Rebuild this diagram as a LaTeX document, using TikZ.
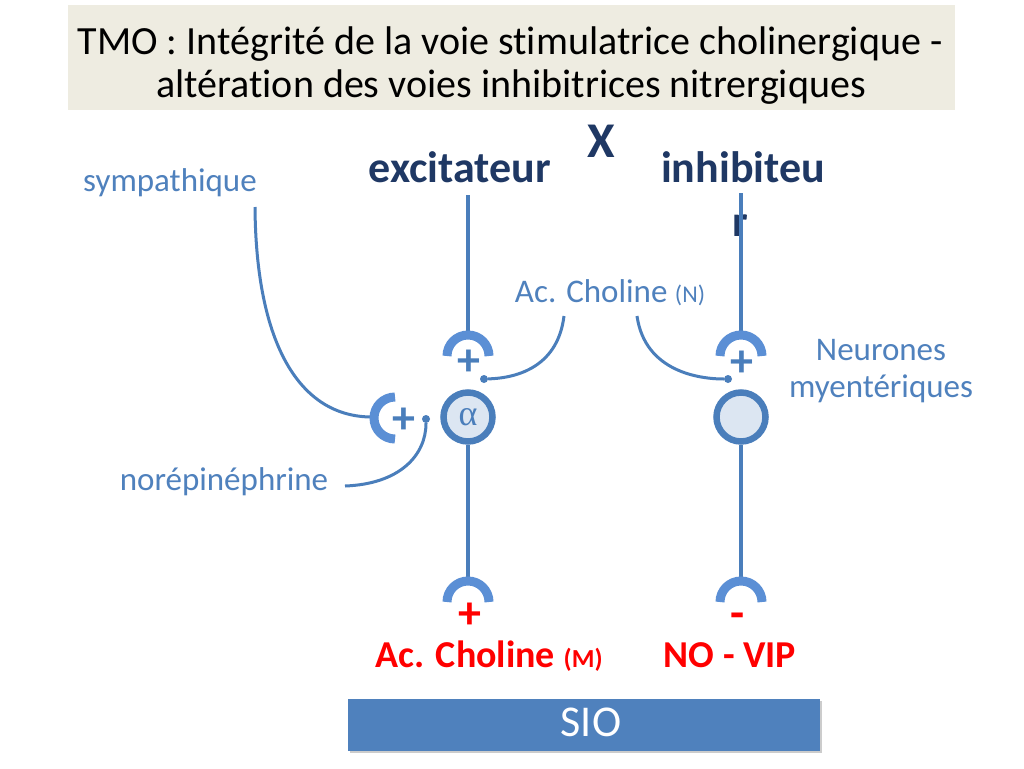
\documentclass[tikz,border=0pt]{standalone}
\usepackage{fontspec}
\setmainfont{Carlito}[Ligatures={NoCommon}]
\newfontfamily\alphafont{Liberation Serif}
\usetikzlibrary{shadows}
\definecolor{titlebg}{HTML}{EEECE1}
\definecolor{navy}{HTML}{1F3864}
\definecolor{textblue}{HTML}{4F81BD}
\definecolor{lineblue}{HTML}{4A7EBB}
\definecolor{capblue}{HTML}{5B8FD5}
\definecolor{circfill}{HTML}{DCE6F2}
\definecolor{siofill}{HTML}{4F81BD}
\definecolor{redtext}{HTML}{FF0000}
\begin{document}
\begin{tikzpicture}[x=1pt,y=-1pt,
  txt/.style={inner sep=0pt, anchor=base},
  titletxt/.style={txt, text=black, font=\fontsize{40}{43}\selectfont},
  bluetxt/.style={txt, text=textblue, font=\fontsize{33}{36}\selectfont},
  navytxt/.style={txt, text=navy, font=\bfseries\fontsize{44}{48}\selectfont},
  redtxt/.style={txt, text=redtext, font=\bfseries\fontsize{38}{40}\selectfont},
  redsign/.style={txt, text=redtext, font=\bfseries\fontsize{46}{46}\selectfont},
  bluesign/.style={txt, text=lineblue, font=\bfseries\fontsize{46}{46}\selectfont},
  vline/.style={draw=lineblue, line width=4pt},
  curveline/.style={draw=lineblue, line width=3pt},
  capstroke/.style={draw=capblue, line width=9pt},
  neuron/.style={circle, draw=lineblue, line width=6.5pt, fill=circfill, minimum size=49pt, inner sep=0pt},
  dotnode/.style={circle, fill=lineblue, minimum size=8pt, inner sep=0pt},
]
\useasboundingbox (0,0) rectangle (1024,768);
\fill[white] (0,0) rectangle (1024,768);

% title
\node[fill=titlebg, minimum width=887pt, minimum height=105pt, anchor=north west, inner sep=0pt] (titlebox) at (68,5) {};
\node[titletxt] (title1) at (510,55) {TMO : Intégrité de la voie stimulatrice cholinergique -};
\node[titletxt] (title2) at (511,97) {altération des voies inhibitrices nitrergiques};

% headings
\node[navytxt] (exc) at (460,182) {excitateur};
\node[navytxt, font=\bfseries\fontsize{50}{50}\selectfont] (xmark) at (601,157) {X};
\node[navytxt] (inh) at (743,182) {inhibiteu};
\node[navytxt] (inhr) at (740,236) {r};

% labels
\node[bluetxt] (symp) at (170,191) {sympathique};
\node[bluetxt] (nore) at (224,490) {norépinéphrine};
\node[bluetxt] (achn) at (610,302) {Ac. Choline {\fontsize{24}{26}\selectfont (N)}};
\node[bluetxt] (neur1) at (881,360) {Neurones};
\node[bluetxt] (neur2) at (881,397) {myentériques};

% neurons
\node[neuron] (alpha) at (468,417) {\textcolor{lineblue}{\alphafont\fontsize{36}{36}\selectfont α}};
\node[neuron] (nitr) at (741,417) {};

% coordinates
\coordinate (excTop) at (468,195);
\coordinate (inhTop) at (741,193);
\coordinate (capT1) at (468,334);
\coordinate (capT2) at (741,334);
\coordinate (capB1) at (468,580);
\coordinate (capB2) at (741,580);
\coordinate (capL) at (372,417);
\coordinate (sympStart) at (255,207);
\coordinate (noreEnd) at (345,486);
\coordinate (achnL) at (564,316);
\coordinate (achnR) at (637,316);

% vertical lines
\draw[vline] (excTop) -- (capT1);
\draw[vline] (alpha.south) -- (capB1);
\draw[vline] (inhTop) -- (capT2);
\draw[vline] (nitr.south) -- (capB2);

% dots
\node[dotnode] (dotA) at (484,379) {};
\node[dotnode] (dotB) at (728,379) {};
\node[dotnode] (dotC) at (426,419) {};

% curves
\draw[curveline] (sympStart) .. controls (256,345) and (300,417) .. (capL);
\draw[curveline] (noreEnd) .. controls (400,484) and (426,455) .. (dotC);
\draw[curveline] (achnL) .. controls (558,365) and (520,378) .. (dotA);
\draw[curveline] (achnR) .. controls (645,372) and (700,379) .. (dotB);

% caps (receptors)
\foreach \c in {(468,356),(741,356),(468,602),(741,602)}{
  \draw[capstroke] \c ++(-21pt,0) arc[start angle=180, end angle=0, radius=21pt];
}
\draw[capstroke] (395,418) ++(0,21pt) arc[start angle=90, end angle=270, radius=21pt];

% signs
\node[bluesign] (pT1) at (469,375) {+};
\node[bluesign] (pT2) at (742,376) {+};
\node[bluesign] (pL) at (404,433) {+};
\node[redsign] (pB1) at (470,628) {+};
\node[redsign] (mB2) at (738,628) {-};

% bottom labels
\node[redtxt] (achm) at (489,667) {Ac. Choline {\fontsize{26}{28}\selectfont (M)}};
\node[redtxt] (novip) at (730,667) {NO - VIP};

% SIO
\node[fill=siofill, minimum width=472pt, minimum height=52pt, anchor=north west, inner sep=0pt,
      drop shadow={shadow xshift=2pt, shadow yshift=-2pt, opacity=0.4}] (siobox) at (348,699) {};
\node[text=white, font=\fontsize{44}{44}\selectfont, inner sep=0pt] (sio) at (591,722) {SIO};
\end{tikzpicture}
\end{document}
